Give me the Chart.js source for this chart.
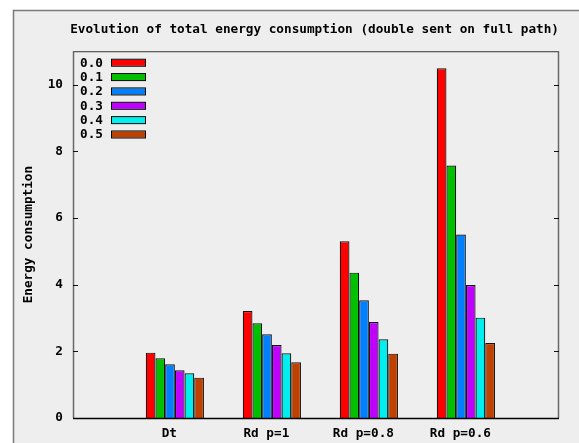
<!DOCTYPE html>
<html>
<head>
<meta charset="utf-8">
<script src="https://cdn.jsdelivr.net/npm/chart.js@4/dist/chart.umd.min.js"></script>
<style>
  html, body { margin: 0; padding: 0; background: #ffffff; }
  #wrap { width: 579px; height: 443px; }
</style>
</head>
<body>
<div id="wrap"><canvas id="c" width="579" height="443"></canvas></div>
<script>
// Groups along the x axis
const categories = ['Dt', 'Rd p=1', 'Rd p=0.8', 'Rd p=0.6'];
// One series per loss rate
const seriesNames = ['0.0', '0.1', '0.2', '0.3', '0.4', '0.5'];
const values00 = [1.96, 3.21, 5.30, 10.49];
const values01 = [1.79, 2.84, 4.36, 7.57];
const values02 = [1.61, 2.51, 3.53, 5.50];
const values03 = [1.43, 2.19, 2.88, 3.99];
const values04 = [1.34, 1.94, 2.36, 3.01];
const values05 = [1.21, 1.67, 1.93, 2.25];
const yTicks = [0, 2, 4, 6, 8, 10];

const seriesValues = [values00, values01, values02, values03, values04, values05];
const colors = ['#ff0000', '#00c000', '#0080ff', '#c000ff', '#00eeee', '#c04000'];

const FONT = { family: '"DejaVu Sans Mono", monospace', size: 12.7, weight: 'bold' };

const datasets = seriesNames.map((name, s) => ({
  label: name,
  data: seriesValues[s].map((v, i) => ({ x: i, y: v })),
  backgroundColor: colors[s],
  borderColor: '#111111',
  borderWidth: 1.2,
  categoryPercentage: 0.6,
  barPercentage: 1.0
}));

// Page background with the grey frame
const backdrop = {
  id: 'backdrop',
  beforeDraw(chart) {
    const ctx = chart.ctx;
    ctx.save();
    ctx.fillStyle = '#ffffff';
    ctx.fillRect(0, 0, chart.width, chart.height);
    ctx.fillStyle = '#eeeeee';
    ctx.fillRect(13, 10, chart.width - 13, chart.height - 10);
    ctx.strokeStyle = '#7a7a7a';
    ctx.lineWidth = 1.5;
    ctx.beginPath();
    ctx.moveTo(13.5, chart.height);
    ctx.lineTo(13.5, 10.5);
    ctx.lineTo(chart.width, 10.5);
    ctx.stroke();
    ctx.restore();
  }
};

// Plot frame, inward tick marks and the in-plot key
const frame = {
  id: 'frame',
  afterDatasetsDraw(chart) {
    const ctx = chart.ctx;
    const a = chart.chartArea;
    const y = chart.scales.y;
    ctx.save();
    ctx.lineWidth = 1;
    // top
    ctx.strokeStyle = '#333333';
    ctx.beginPath(); ctx.moveTo(a.left, a.top + 0.5); ctx.lineTo(a.right, a.top + 0.5); ctx.stroke();
    // sides
    ctx.strokeStyle = '#6a6a6a';
    ctx.lineWidth = 1.5;
    ctx.beginPath(); ctx.moveTo(a.left + 0.5, a.top); ctx.lineTo(a.left + 0.5, a.bottom); ctx.stroke();
    ctx.beginPath(); ctx.moveTo(a.right - 0.5, a.top); ctx.lineTo(a.right - 0.5, a.bottom); ctx.stroke();
    // bottom
    ctx.strokeStyle = '#000000';
    ctx.lineWidth = 1.5;
    ctx.beginPath(); ctx.moveTo(a.left, a.bottom + 0.5); ctx.lineTo(a.right, a.bottom + 0.5); ctx.stroke();
    // ticks
    ctx.strokeStyle = '#111111';
    ctx.lineWidth = 1;
    yTicks.forEach(v => {
      if (v === 0) return;
      const py = Math.round(y.getPixelForValue(v)) + 0.5;
      ctx.beginPath(); ctx.moveTo(a.left, py); ctx.lineTo(a.left + 5, py); ctx.stroke();
      ctx.beginPath(); ctx.moveTo(a.right - 5, py); ctx.lineTo(a.right, py); ctx.stroke();
    });
    // key
    ctx.font = `${FONT.weight} ${FONT.size}px ${FONT.family}`;
    ctx.textBaseline = 'middle';
    ctx.textAlign = 'left';
    chart.data.datasets.forEach((ds, i) => {
      const cy = a.top + 11.5 + i * 14.35;
      ctx.fillStyle = '#000000';
      ctx.fillText(ds.label, a.left + 7, cy + 0.5);
      ctx.fillStyle = ds.backgroundColor;
      ctx.fillRect(a.left + 38, cy - 3, 35, 6);
      ctx.strokeStyle = '#000000';
      ctx.lineWidth = 1;
      ctx.strokeRect(a.left + 38.5, cy - 3.5, 34, 7);
    });
    ctx.restore();
  }
};

new Chart(document.getElementById('c'), {
  type: 'bar',
  data: { datasets },
  plugins: [backdrop, frame],
  options: {
    responsive: false,
    animation: false,
    devicePixelRatio: 1,
    layout: { padding: { left: 0, right: 20, top: 0, bottom: 0 } },
    plugins: {
      legend: { display: false },
      tooltip: { enabled: false },
      title: {
        display: true,
        text: 'Evolution of total energy consumption (double sent on full path)',
        align: 'end',
        color: '#000000',
        font: FONT,
        padding: { top: 22, bottom: 14 }
      }
    },
    scales: {
      x: {
        type: 'linear',
        offset: false,
        min: -1.05,
        max: 3.96,
        grid: { display: false, drawTicks: false },
        border: { display: false },
        ticks: {
          stepSize: 1,
          autoSkip: false,
          includeBounds: false,
          maxRotation: 0,
          padding: 8,
          labelOffset: -5.5,
          color: '#000000',
          font: FONT,
          callback: (v) => (Number.isInteger(v) && v >= 0 && v < categories.length) ? categories[v] : ''
        },
        afterFit(scale) { scale.height = 25; }
      },
      y: {
        min: 0,
        max: 11,
        grid: { display: false, drawTicks: false },
        border: { display: false },
        ticks: {
          stepSize: 2,
          includeBounds: false,
          padding: 10,
          color: '#000000',
          font: FONT
        },
        title: {
          display: true,
          text: 'Energy consumption',
          color: '#000000',
          font: FONT,
          padding: { top: 21, bottom: 0 }
        },
        afterFit(scale) { scale.width = 73; }
      }
    }
  }
});
</script>
</body>
</html>
